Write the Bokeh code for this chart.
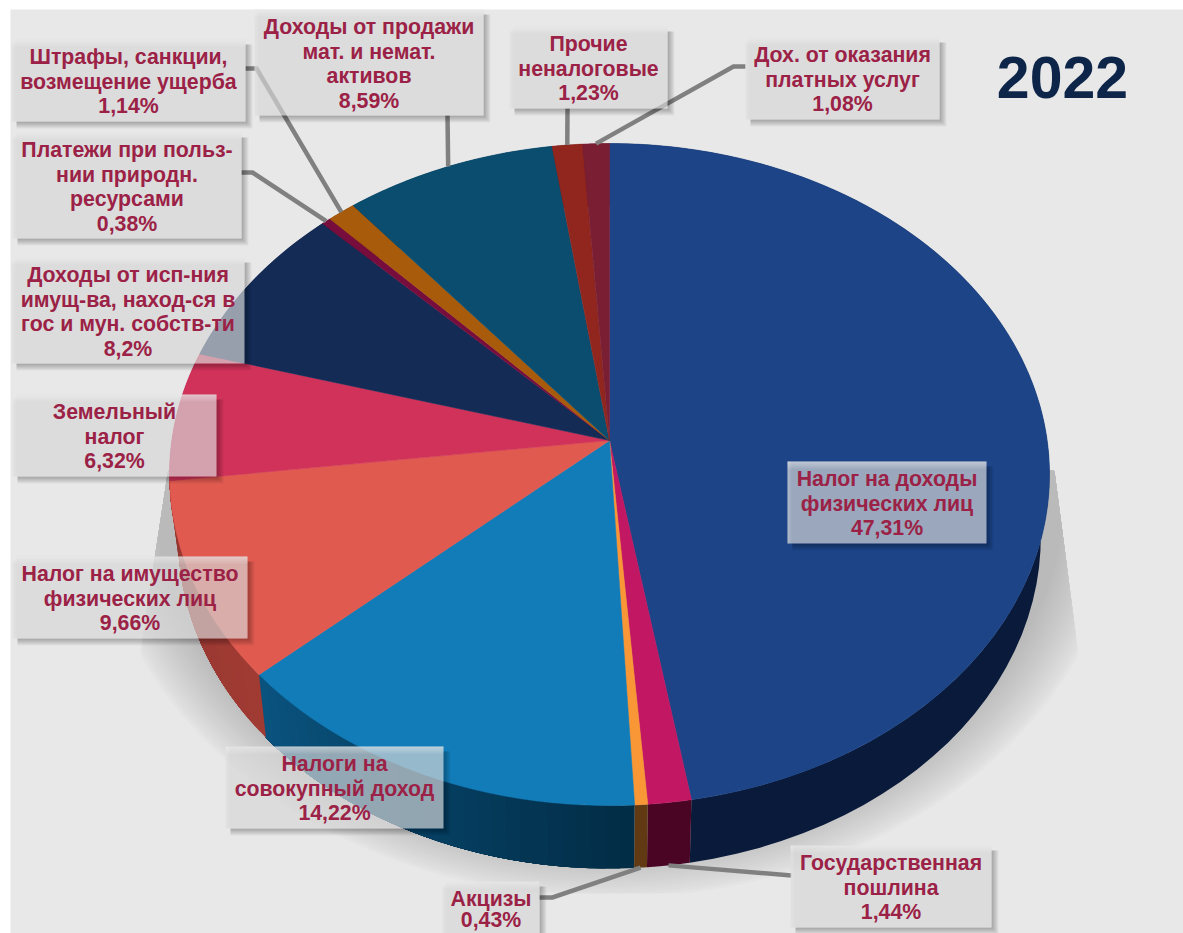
import numpy as np
from bokeh.plotting import figure
from bokeh.embed import file_html
from bokeh.resources import INLINE
from bokeh.core.properties import value as fixed

# ---- data (clockwise from the top of the pie) ----
names = ["Налог на доходы физических лиц", "Государственная пошлина", "Акцизы",
         "Налоги на совокупный доход", "Налог на имущество физических лиц", "Земельный налог",
         "Доходы от исп-ния имущ-ва", "Платежи при польз-нии природн. ресурсами",
         "Штрафы, санкции, возмещение ущерба", "Доходы от продажи мат. и немат. активов",
         "Прочие неналоговые", "Дох. от оказания платных услуг"]
values = [47.31, 1.44, 0.43, 14.22, 9.66, 6.32, 8.2, 0.38, 1.14, 8.59, 1.23, 1.08]
label_lines = [
    ["Налог на доходы", "физических лиц", "47,31%"],
    ["Государственная", "пошлина", "1,44%"],
    ["Акцизы", "0,43%"],
    ["Налоги на", "совокупный доход", "14,22%"],
    ["Налог на имущество", "физических лиц", "9,66%"],
    ["Земельный", "налог", "6,32%"],
    ["Доходы от исп-ния", "имущ-ва, наход-ся в", "гос и мун. собств-ти", "8,2%"],
    ["Платежи при польз-", "нии природн.", "ресурсами", "0,38%"],
    ["Штрафы, санкции,", "возмещение ущерба", "1,14%"],
    ["Доходы от продажи", "мат. и немат.", "активов", "8,59%"],
    ["Прочие", "неналоговые", "1,23%"],
    ["Дох. от оказания", "платных услуг", "1,08%"],
]
title_text = "2022"

# ---- styles ----
top_colors = ["#1c4487", "#c21762", "#f99737", "#127cb8", "#e05a50", "#d0325a",
              "#142b56", "#770d3d", "#a85b0b", "#0a4d6e", "#90261e", "#7a1e34"]
wall_start = ["#0a1a3a", "#4a0424", "#613a14", "#022c45", "#a03b33", "#80203c",
              "#0a1a3a", "#4a0424", "#613a14", "#022c45", "#5a1510", "#4a1020"]
wall_end = ["#0a1a3a", "#4a0424", "#613a14", "#0a5480", "#943630", "#80203c",
            "#0a1a3a", "#4a0424", "#613a14", "#022c45", "#5a1510", "#4a1020"]
TEXT = "#9b2246"
BG = "#e8e8e8"

# ---- layout in pixels of the picture ----
W, H = 1183, 933
cx, y_top, y_low = 609.0, 440.0, 503.0
k, a_y, b_x, b_low = 0.1027, 327.5, 437.7, 429.0
boxes = [(787, 461, 986, 543), (790, 845, 991, 927), (442, 881, 539, 933), (225, 746, 443, 828),
         (12, 556, 247, 638), (12, 394, 216, 476), (11, 257, 244, 363), (12, 132, 241, 238),
         (11, 39, 245, 121), (254, 9, 483, 115), (509, 26, 667, 108), (745, 37, 939, 119)]
# leader: label side points, slice fraction it ends at, whether it ends on the lower rim
leaders = {1: ([(791, 875)], 0.5, True),
           2: ([(539, 897), (552, 897)], 0.5, True),
           7: ([(241, 172), (252, 172)], 0.5, False),
           8: ([(245, 68), (256, 68)], 0.5, False),
           9: ([(447, 115)], 0.5, False),
           10: ([(567, 108)], 0.5, False),
           11: ([(745, 66), (733, 66)], 0.5, False)}


def rim(pct, low=False):
    t = 2 * np.pi * np.asarray(pct, dtype=float) / 100.0
    u, v = np.sin(t), -np.cos(t)
    d = 1 - k * v
    if low:
        return cx + b_low * u / d, y_low + a_y * v / d
    return cx + b_x * u / d, y_top + a_y * v / d


def mix(c1, c2, f):
    a = [int(c1[i:i + 2], 16) for i in (1, 3, 5)]
    b = [int(c2[i:i + 2], 16) for i in (1, 3, 5)]
    return "#%02x%02x%02x" % tuple(int(round(x + (y - x) * f)) for x, y in zip(a, b))


p = figure(width=W, height=H, x_range=(0, W), y_range=(H, 0), output_backend="svg",
           toolbar_location=None, min_border=0, outline_line_color=None,
           background_fill_color="white", border_fill_color="white")
p.axis.visible = False
p.grid.visible = False

p.quad(left=[10], right=[W], top=[9], bottom=[H], fill_color=BG, line_color=None)

# soft shadow under the pie
th = np.linspace(0, 2 * np.pi, 361)
for i in range(20):
    f = i / 19
    s = 1.0 - 0.12 * f
    x = cx + 520 * s * np.sin(th)
    y = 480 - 420 * s * np.cos(th)
    x = np.minimum(x, 1050 + (y - 440) * 30 / 230)
    x = np.maximum(x, 166 - (y - 480) * 26 / 170)
    y = np.clip(y, 470, 893)
    p.patch(x, y, fill_color=mix(BG, "#bababa", f ** 0.8), line_color=None)

edges = np.concatenate([[0], np.cumsum(values)])
edges = edges / edges[-1] * 100

# side walls: each step repaints from its start to the slice's end, so no seams show
for i in range(len(values)):
    n = 30 if wall_start[i] != wall_end[i] else 1
    st = np.linspace(edges[i], edges[i + 1], n + 1)
    for j in range(n):
        ps = np.linspace(st[j], edges[i + 1], 60)
        x1, y1 = rim(ps)
        x2, y2 = rim(ps[::-1], low=True)
        c = mix(wall_start[i], wall_end[i], (j + 0.5) / n)
        p.patch(np.r_[x1, x2], np.r_[y1, y2], fill_color=c, line_color=None)

# top slices
for i in range(len(values)):
    ps = np.linspace(edges[i], edges[i + 1], max(4, int(values[i] * 6)))
    x, y = rim(ps)
    p.patch(np.r_[cx, x], np.r_[y_top, y], fill_color=top_colors[i], line_color=top_colors[i],
            line_width=0.5)

# leader lines
for i, (pts, frac, low) in leaders.items():
    ex, ey = rim(edges[i] + frac * (edges[i + 1] - edges[i]), low=low)
    xs = [q[0] for q in pts] + [float(ex)]
    ys = [q[1] for q in pts] + [float(ey)]
    p.line(xs, ys, line_color="#808080", line_width=4.5, line_join="miter")

# label boxes
for (x1, y1, x2, y2) in boxes:
    for s in range(1, 8):
        xs = [x2, x2 + s, x2 + s, x1 + 5, x1 + 5, x2]
        ys = [y1 + 5, y1 + 5, y2 + s, y2 + s, y2, y2]
        p.patch(xs, ys, fill_color="#000000", fill_alpha=0.045, line_color=None)
    p.quad(left=[x1], right=[x2], top=[y1], bottom=[y2], fill_color="#d6d6d6", fill_alpha=0.68,
           line_color=None)
    for s in (7, 5, 3, 1.5):
        p.quad(left=[x1], right=[x2], top=[y1], bottom=[y1 + s], fill_color="white", fill_alpha=0.1,
               line_color=None)
    for s in (4, 2.5, 1.2):
        p.quad(left=[x1], right=[x1 + s], top=[y1], bottom=[y2], fill_color="white", fill_alpha=0.08,
               line_color=None)

# label texts (kept inside the bottom edge of the picture)
for lines, (x1, y1, x2, y2) in zip(label_lines, boxes):
    ys = [min(y1 + 17.8 + 24.4 * n, H - 13.5) for n in range(len(lines))]
    p.text(x=[(x1 + x2) / 2] * len(lines), y=ys,
           text=lines, text_align="center", text_baseline="middle",
           text_font=fixed("Liberation Sans"), text_font_style="bold", text_font_size="21.3px",
           text_color=TEXT)

p.text(x=[1062], y=[77], text=[title_text], text_align="center", text_baseline="middle",
       text_font=fixed("Liberation Sans"), text_font_style="bold", text_font_size="59px",
       text_color="#0d2549")

open("out.html", "w").write(file_html(p, INLINE))
